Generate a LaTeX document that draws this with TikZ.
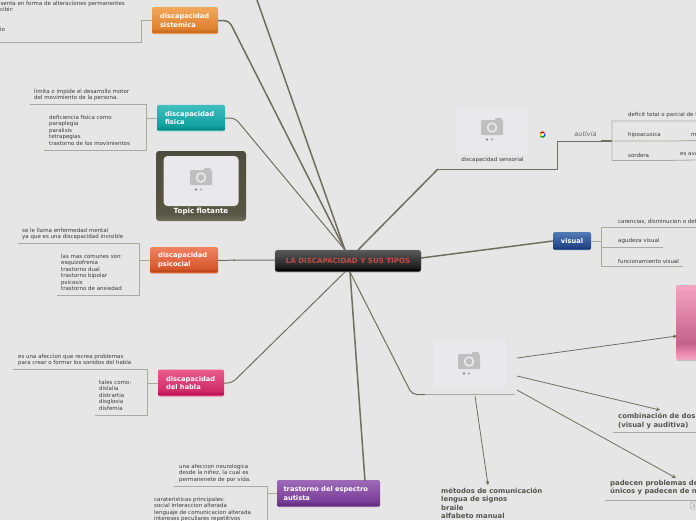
\documentclass[tikz,border=0pt]{standalone}
\usepackage{fontspec}
\setmainfont{DejaVu Sans}
\usetikzlibrary{arrows.meta}
\definecolor{bgc}{HTML}{E6E6E6}
\definecolor{rootl}{HTML}{6F6F5F}
\definecolor{subl}{HTML}{A9A99E}
\definecolor{txt}{HTML}{3A3A3A}
\definecolor{btxt}{HTML}{55554F}
\definecolor{cardc}{HTML}{E9E9EB}
\definecolor{cardb}{HTML}{E2E2E4}
\newcommand{\mkshade}[5]{%
  \definecolor{#1a}{HTML}{#2}\definecolor{#1b}{HTML}{#3}\definecolor{#1c}{HTML}{#4}\definecolor{#1d}{HTML}{#5}%
  \pgfdeclareverticalshading{#1}{100bp}{color(0bp)=(#1a);color(26bp)=(#1a);color(29bp)=(#1b);color(36bp)=(#1c);color(75bp)=(#1d);color(100bp)=(#1d)}}
\mkshade{shO}{F0A868}{C86A1A}{DE8230}{F2A95C}
\mkshade{shT}{6CCBC9}{038A88}{14A0A0}{40BFC0}
\mkshade{shP}{F09070}{BE4416}{D85A30}{EE8262}
\mkshade{shH}{EE80A4}{BC1150}{D02B68}{EA5C8C}
\mkshade{shA}{A070B8}{5F2C7C}{7A3F98}{9E6AB8}
\mkshade{shV}{6A88BC}{183A78}{24488A}{527CB6}
\mkshade{shR}{6A6A6A}{000000}{1E1E1E}{5A5A5A}
\mkshade{shI}{EFA3C0}{F28CB2}{C4628A}{F4A3C2}
\mkshade{shF}{6E6C5A}{5A5848}{56543F}{4E4C3E}
\tikzset{
  topic/.style={rounded corners=2pt,shade,shading=#1,shading angle=0,text=white,inner sep=0pt,
    align=left,font=\bfseries\fontsize{6.7}{8.7}\selectfont},
  rootlink/.style={draw=rootl,line width=1.5pt,line join=round,rounded corners=5pt},
  thinroot/.style={draw=rootl,line width=1pt,line join=round,rounded corners=5pt},
  sub/.style={draw=subl,line width=.8pt},
  lbl/.style={anchor=north west,inner sep=0pt,align=left,text=txt,font=\fontsize{5.5}{6.45}\selectfont},
  blbl/.style={anchor=north west,inner sep=0pt,align=left,text=btxt,font=\bfseries\fontsize{6.9}{8.4}\selectfont},
  arrowl/.style={draw=rootl,line width=.8pt,-{Stealth[length=4pt,width=4pt]}},
  card/.style={draw=cardb,fill=cardc,rounded corners=3pt,inner sep=0pt},
}
\newcommand{\camera}[1]{%
  \begin{scope}[shift={#1}]
    \fill[black!25,rounded corners=1pt] (-11,-7) rectangle (11,8);
    \fill[black!25,rounded corners=1pt] (3,-9) rectangle (10,-5);
    \fill[cardc] (0,0.5) circle (5.3);
    \fill[black!25] (0,0.5) circle (3.4);
    \fill[black!45] (-5,12.5) circle (1.3);
    \fill[black!30] (0,12.5) circle (1.3);
    \fill[black!8] (5,12.5) circle (1.3);
  \end{scope}}
\begin{document}
\begin{tikzpicture}[x=1pt,y=-1pt]
\useasboundingbox (0,0) rectangle (696,520);
\clip (0,0) rectangle (696,520);
\fill[bgc] (0,0) rectangle (696,520);

% coordinates
\coordinate (hub) at (345,250);
\coordinate (hubL) at (345,272);
\coordinate (hubB) at (350,272);
\coordinate (hubR) at (358,250);
\coordinate (topend) at (257,0);

% topics
\node[topic=shO,minimum width=66pt,minimum height=27pt,text width=50pt] (sist) at (185,20.5) {discapacidad\\sistemica};
\node[topic=shT,minimum width=68pt,minimum height=26.5pt,text width=52pt] (fis) at (191,118) {discapacidad\\fisica};
\node[topic=shP,minimum width=68pt,minimum height=26.5pt,text width=52pt] (psi) at (184,260.3) {discapacidad\\psicocial};
\node[topic=shH,minimum width=66pt,minimum height=27pt,text width=50pt] (hab) at (191,383) {discapacidad\\del habla};
\node[topic=shA,minimum width=103pt,minimum height=27pt,text width=90pt] (aut) at (328.5,493.5) {trastorno del espectro\\autista};
\node[topic=shV,minimum width=38pt,minimum height=18pt,align=center] (vis) at (572,241) {visual};

% links from the root
\draw[rootlink] (hub) -- (topend);
\draw[rootlink] (hub) -- (229,20.5) -- (sist.east);
\draw[thinroot] (hub) -- (235,118) -- (fis.east);
\draw[thinroot] (275,260) -- (psi.east);
\fill[rootl] (234,260.3) circle (1);
\draw[thinroot] (hubL) -- (232,383) -- (hab.east);
\draw[rootlink] (hubB) -- (365,481);
\draw[rootlink] (421,258) -- (vis.west);
\coordinate (senL) at (438,169);
\coordinate (imgL) at (425,394.5);
\draw[rootlink] (hubR) -- (senL);
\draw[thinroot,rounded corners=0pt] (senL) -- (557,169) -- (557,141) -- (612,141);
\draw[thinroot] (hubB) -- (412,394.5) -- (imgL);
\draw[sub] (imgL) -- (515,394.5);

% root
\node[rounded corners=2.5pt,shade,shading=shR,shading angle=0,minimum width=146pt,minimum height=22pt,inner sep=0pt,
  text=white,font=\bfseries\fontsize{7.1}{8}\selectfont,draw=black!50,line width=.3pt] (root) at (348,261)
  {\textcolor[HTML]{C64A4A}{LA DISCAPACIDAD Y SUS TIPOS}};

% sistemica group
\coordinate (s1) at (141,42.5);
\draw[sub] (sist.west) -- (141,20.5) -- (s1) -- (0,42.5);
\node[lbl,anchor=north east] (t1) at (125,1) {esenta en forma de alteraciones permanentes};
\node[lbl] (t2) at (0,7) {cibir:};
\node[lbl] (t3) at (0,27) {io};

% fisica group
\draw[sub] (fis.west) -- (146.5,118);
\draw[sub] (30,104.5) -- (146.5,104.5) -- (146.5,150) -- (44,150);
\node[lbl] (t4) at (34,89) {limita o impide el desarrollo motor\\del movimiento de la persona.};
\node[lbl] (t5) at (49,115) {deficiencia fisica como\\paraplegia\\paralisis\\tetrapegias\\trastorno de los movimientos};

% psicosocial group
\draw[sub] (psi.west) -- (139.5,260.3);
\draw[sub] (18,243.5) -- (139.5,243.5) -- (139.5,295.5) -- (57,295.5);
\node[lbl] (t6) at (22,228) {se le llama enfermedad mental\\ya que es una discapacidad invisible};
\node[lbl] (t7) at (61,254) {las mas comunes son:\\esquizofrenia\\trastorno dual\\trastorno bipolar\\psicosis\\trastorno de ansiedad};

% habla group
\draw[sub] (hab.west) -- (147.5,383);
\draw[sub] (13,369.5) -- (147.5,369.5) -- (147.5,415) -- (95,415);
\node[lbl] (t8) at (18,354) {es una afeccion que recrea problemas\\para crear o formar los sonidos del habla};
\node[lbl] (t9) at (99,380) {tales como:\\dislalia\\distrartia\\disglosia\\disfemia};

% autismo group
\draw[sub] (aut.west) -- (267,493.5);
\draw[sub] (174,486) -- (267,486) -- (267,520);
\node[lbl] (t10) at (179,464) {una afeccion neurologica\\desde la niñez, la cual es\\permanenete de por vida.};
\node[lbl] (t11) at (154,497) {carateristicas principales:\\social interaccion alterada\\lenguaje de comunicacion alterada\\intereses peculiares repetitivos};

% floating topic
\node[rounded corners=3pt,shade,shading=shF,shading angle=0,minimum width=90pt,minimum height=70pt,inner sep=0pt] (flot) at (201,186) {};
\node[fill=cardc,rounded corners=4pt,minimum width=75pt,minimum height=50pt,inner sep=0pt] (flotimg) at (201,181) {};
\camera{(201,177)}
\node[text=white,inner sep=0pt,font=\bfseries\fontsize{7.1}{8}\selectfont] (flott) at (201,212) {Topic flotante};

% sensorial image
\node[card,minimum width=74pt,minimum height=48pt] (sens) at (492.5,130.5) {};
\camera{(492,127)}
\node[lbl,anchor=center,font=\fontsize{5.5}{6}\selectfont] (senst) at (492.5,160) {discapacidad sensorial};
% google icon
\begin{scope}[shift={(542.5,134.5)}]
  \draw[line width=1.2pt,red!80!black] (-2.4,-1) arc[start angle=205,end angle=320,radius=2.6];
  \draw[line width=1.2pt,yellow!80!orange] (-2.4,-1) arc[start angle=205,end angle=140,radius=2.6];
  \draw[line width=1.2pt,green!60!black] (-2,1.7) arc[start angle=140,end angle=40,radius=2.6];
  \draw[line width=1.2pt,blue!70!cyan] (2,1.7) arc[start angle=40,end angle=-20,radius=2.6];
\end{scope}
\node[lbl,anchor=center,text=black!60,font=\itshape\fontsize{6.5}{8}\selectfont] (aut2) at (585.5,134.5) {autivia};
\draw[rootl,line width=1.3pt] (601,141) -- (612,141);
\draw[sub] (696,121) -- (612,121) -- (612,160.5) -- (664,160.5) -- (696,160);
\draw[sub] (612,141) -- (675,141) -- (696,140.5);
\node[lbl,anchor=west] (t12) at (628,115) {deficit total o parcial de l};
\node[lbl,anchor=west] (t13) at (628,135) {hipoacusica};
\node[lbl,anchor=west] (t14) at (691,135) {m};
\node[lbl,anchor=west] (t15) at (628,155) {sordera};
\node[lbl,anchor=west] (t16) at (680,154) {es ava};

% visual group
\draw[sub] (vis.east) -- (601.5,241);
\draw[sub] (696,227.5) -- (601.5,227.5) -- (601.5,266.5) -- (683,266.5);
\draw[sub] (601.5,247) -- (663,247);
\node[lbl,anchor=west] (t17) at (618,222) {carencias, disminucion o def};
\node[lbl,anchor=west] (t18) at (618,241) {agudeza visual};
\node[lbl,anchor=west] (t19) at (618,261) {funcionamiento visual};

% second image node
\node[card,minimum width=74pt,minimum height=48pt] (img2) at (470,364) {};
\camera{(469,361)}

% pink node
\node[rounded corners=2pt,shade,shading=shI,shading angle=0,minimum width=40pt,minimum height=75pt,inner sep=0pt] (pink) at (696,322.5) {};
\draw[black!25,line width=.5pt] (676.5,360.5) -- (696,360.5);

% texts for arrows
\node[blbl] (comb) at (618,413) {combinación de dos\\(visual y auditiva)};
\draw[sub] (613,432.5) -- (696,432.5);
\node[blbl] (pad) at (610,480) {padecen problemas de\\únicos y padecen de n};
\draw[sub] (605,500) -- (696,500);
\node[blbl] (met) at (441,487.5) {métodos de comunicación\\lengua de signos\\braile\\alfabeto manual};
\node[draw=black!45,fill=bgc,rounded corners=1.5pt,minimum width=7pt,minimum height=7pt,inner sep=0pt,text=black!60,font=\fontsize{4.5}{5}\selectfont] (badge) at (694,505.5) {1};

% arrows
\coordinate (a1) at (517,358); \coordinate (a2) at (517,376); \coordinate (a3) at (517,390); \coordinate (a4) at (475,396);
\coordinate (e1) at (677,336); \coordinate (e2) at (660,410); \coordinate (e3) at (676,478); \coordinate (e4) at (488,485);
\draw[arrowl] (a1) -- (e1);
\draw[arrowl] (a2) -- (e2);
\draw[arrowl] (a3) -- (e3);
\draw[arrowl] (a4) -- (e4);
\end{tikzpicture}
\end{document}
